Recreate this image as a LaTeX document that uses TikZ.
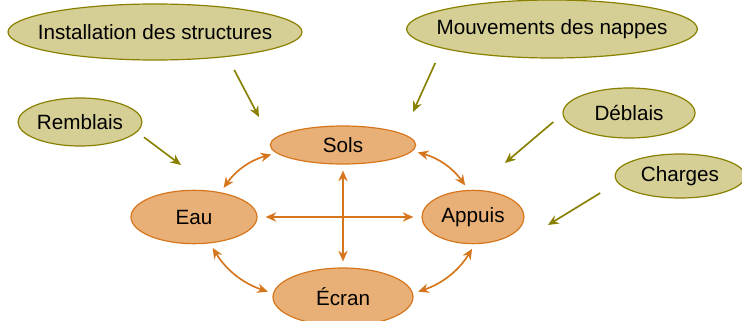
\documentclass[tikz,border=0pt]{standalone}
\usepackage{fontspec}
\setmainfont{Liberation Sans}
\usetikzlibrary{positioning}
\usetikzlibrary{shapes.geometric}
\usetikzlibrary{arrows.meta}

\definecolor{olivefill}{RGB}{213,207,150}
\definecolor{oliveline}{RGB}{138,128,0}
\definecolor{orangefill}{RGB}{232,176,118}
\definecolor{orangeline}{RGB}{214,118,28}

\tikzset{
	bulle/.style={ellipse, draw, line width=0.9pt, inner sep=0pt, inner xsep=-30pt, font=\fontsize{15.5}{18}\selectfont},
	facteur/.style={bulle, fill=olivefill, draw=oliveline},
	milieu/.style={bulle, fill=orangefill, draw=orangeline},
	lien/.style={line width=1.25pt, draw=orangeline, {Stealth[length=8pt,width=7pt]}-{Stealth[length=8pt,width=7pt]}, shorten <=4pt, shorten >=4pt},
	action/.style={line width=1.25pt, draw=oliveline, -{Stealth[length=8pt,width=7pt]}}
}

\begin{document}
\begin{tikzpicture}[x=0.75pt, y=-0.75pt]
	\useasboundingbox (0,0) rectangle (742,321);
	
	\node [facteur, minimum width=220.5pt, minimum height=42pt] at (155,32) (inst) {Installation des structures};
	\node [facteur, minimum width=218pt, minimum height=43.5pt] at (552,29) (mouv) {Mouvements des nappes};
	\node [facteur, minimum width=93pt, minimum height=36pt] at (80,122) (remb) {Remblais};
	\node [facteur, minimum width=99pt, minimum height=37.5pt] at (629,113) (debl) {Déblais};
	\node [facteur, minimum width=97.5pt, minimum height=33pt] at (680,176) (charg) {Charges};
	
	\node [milieu, minimum width=109pt, minimum height=28.5pt] at (343,145) (sols) {Sols};
	\node [milieu, minimum width=94.5pt, minimum height=40pt] at (194,217) (eau) {Eau};
	\node [milieu, minimum width=76.5pt, minimum height=40pt] at (473,217) (appuis) {Appuis};
	\node [milieu, minimum width=105pt, minimum height=43.5pt] at (343,297) (ecran) {Écran};
	
	\coordinate (pInst) at (259,117);
	\coordinate (pMouv) at (413,112);
	\coordinate (pRemb) at (181,165);
	\coordinate (pDebl) at (505,163);
	\coordinate (pCharg) at (548,225);
	
	\draw [lien] (eau.43) to [bend left=20] (sols.187);
	\draw [lien] (sols.-5) to [bend left=20] (appuis.100);
	\draw [lien] (eau.-59) to [bend right=20] (ecran.177);
	\draw [lien] (appuis.-86) to [bend left=20] (ecran.3);
	\draw [lien, shorten <=6pt, shorten >=6pt] (eau.east) -- (appuis.west);
	\draw [lien, shorten <=4.5pt, shorten >=4.5pt] (sols.south) -- (ecran.north);
	
	\draw [action, shorten <=11pt] (inst.-19.5) -- (pInst);
	\draw [action, shorten <=12pt] (mouv.190) -- (pMouv);
	\draw [action, shorten <=6.4pt] (remb.-10) -- (pRemb);
	\draw [action, shorten <=9pt] (debl.181) -- (pDebl);
	\draw [action, shorten <=15pt] (charg.186) -- (pCharg);
	
\end{tikzpicture}
\end{document}
